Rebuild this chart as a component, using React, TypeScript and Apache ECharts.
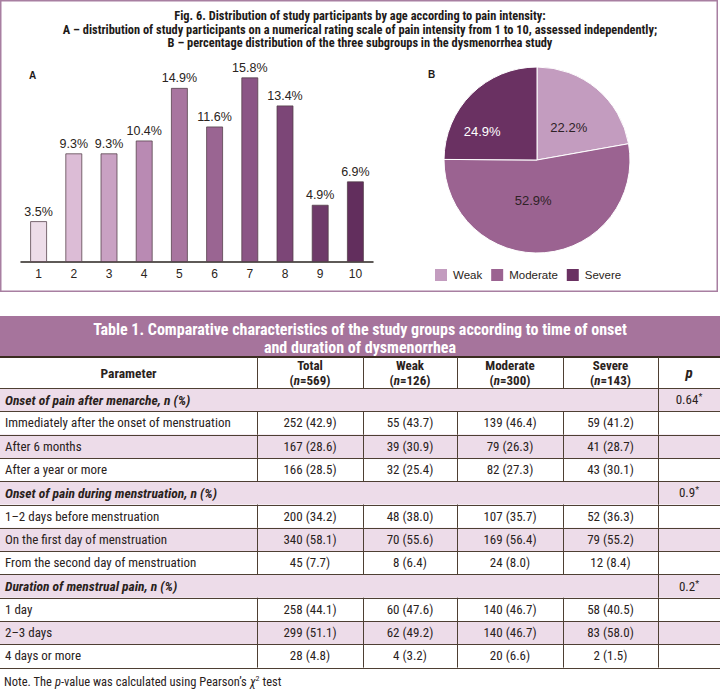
import React, { useEffect, useRef } from "react";
import * as echarts from "echarts";

// ---------- Data ----------
const barCategories = ["1", "2", "3", "4", "5", "6", "7", "8", "9", "10"];
const barValues = [3.5, 9.3, 9.3, 10.4, 14.9, 11.6, 15.8, 13.4, 4.9, 6.9];

const pieNames = ["Weak", "Moderate", "Severe"];
const pieValues = [22.2, 52.9, 24.9];

const titleLines = [
  "Fig. 6. Distribution of study participants by age according to pain intensity:",
  "A – distribution of study participants on a numerical rating scale of pain intensity from 1 to 10, assessed independently;",
  "B – percentage distribution of the three subgroups in the dysmenorrhea study",
];

const tableTitleLines = [
  "Table 1. Comparative characteristics of the study groups according to time of onset",
  "and duration of dysmenorrhea",
];
const columnHeaders = ["Parameter", "Total", "Weak", "Moderate", "Severe", "p"];
const groupSizes = [569, 126, 300, 143];

const sectionTitles = [
  "Onset of pain after menarche, n (%)",
  "Onset of pain during menstruation, n (%)",
  "Duration of menstrual pain, n (%)",
];
const sectionP = ["0.64", "0.9", "0.2"];
const rowLabels = [
  ["Immediately after the onset of menstruation", "After 6 months", "After a year or more"],
  ["1–2 days before menstruation", "On the first day of menstruation", "From the second day of menstruation"],
  ["1 day", "2–3 days", "4 days or more"],
];
const totalN = [252, 167, 166, 200, 340, 45, 258, 299, 28];
const totalPct = [42.9, 28.6, 28.5, 34.2, 58.1, 7.7, 44.1, 51.1, 4.8];
const weakN = [55, 39, 32, 48, 70, 8, 60, 62, 4];
const weakPct = [43.7, 30.9, 25.4, 38.0, 55.6, 6.4, 47.6, 49.2, 3.2];
const moderateN = [139, 79, 82, 107, 169, 24, 140, 140, 20];
const moderatePct = [46.4, 26.3, 27.3, 35.7, 56.4, 8.0, 46.7, 46.7, 6.6];
const severeN = [59, 41, 43, 52, 79, 12, 58, 83, 2];
const severePct = [41.2, 28.7, 30.1, 36.3, 55.2, 8.4, 40.5, 58.0, 1.5];

// ---------- Styles ----------
const barPalette = [
  "#eddde9", "#dcbcd6", "#c9a1c3", "#b98ab3", "#a8759f",
  "#9a6592", "#8b5585", "#7c4677", "#6e3a69", "#622e5d",
];
const piePalette = ["#c39cbf", "#9b6391", "#6a3162"];
const pieLabelColors = ["#2e2226", "#2e2226", "#ffffff"];
const pieLabelOffsets = [[0, 5], [-8, -9], [-20, 7]];

const NARROW = "'Liberation Sans Narrow', 'Arial Narrow', 'Roboto Condensed', sans-serif";
const SANS = "'Liberation Sans', Arial, Helvetica, sans-serif";
const TEXT_DARK = "#2a221c";
const FRAME = "#a87fa1";
const BAND = "#a6749c";
const SHADE = "#eddce9";
const RULE = "#4e3f33";

function txt(x: number, y: number, text: string, font: string, fill: string, align = "left", rich?: any, lineHeight?: number) {
  const style: any = {
    x, y, text, font, fill,
    align, textAlign: align,
    verticalAlign: "middle", textVerticalAlign: "middle",
  };
  if (lineHeight) style.lineHeight = lineHeight;
  if (rich) style.rich = rich;
  return { type: "text", silent: true, style };
}

function buildTable(): any[] {
  const els: any[] = [];
  const colX = [0, 257, 363, 457, 563, 658, 720];
  const bandTop = 316, bandBottom = 357;
  const headTop = 357, headBottom = 388;
  const rowH = 23.3;

  els.push({ type: "rect", silent: true, shape: { x: 0, y: bandTop, width: 720, height: bandBottom - bandTop }, style: { fill: BAND } });
  tableTitleLines.forEach((t, i) => {
    els.push(txt(360, 329 + i * 18, t, `bold 16px ${NARROW}`, "#ffffff", "center", undefined, 18));
  });

  type Row = { kind: "section" | "data"; idx: number; sec: number; sub: number };
  const rows: Row[] = [];
  let di = 0;
  sectionTitles.forEach((_, s) => {
    rows.push({ kind: "section", idx: -1, sec: s, sub: -1 });
    rowLabels[s].forEach((_, k) => {
      rows.push({ kind: "data", idx: di++, sec: s, sub: k });
    });
  });

  rows.forEach((r, i) => {
    const y = headBottom + i * rowH;
    if (r.kind === "section" || r.sub === 1) {
      els.push({ type: "rect", silent: true, shape: { x: 0, y, width: 720, height: rowH }, style: { fill: SHADE } });
    }
  });

  const headFont = `bold 13px ${NARROW}`;
  const headItal = `italic bold 13px ${NARROW}`;
  const hc = (headTop + headBottom) / 2;
  els.push(txt((colX[0] + colX[1]) / 2, hc, columnHeaders[0], `bold 13.5px ${NARROW}`, TEXT_DARK, "center"));
  for (let c = 1; c <= 4; c++) {
    const cx = (colX[c] + colX[c + 1]) / 2;
    els.push(txt(cx, hc - 7.5, columnHeaders[c], headFont, TEXT_DARK, "center", undefined, 14));
    els.push(
      txt(cx, hc + 7.5, `{b|(}{i|n}{b|=${groupSizes[c - 1]})}`, headFont, TEXT_DARK, "center", {
        b: { font: headFont, fill: TEXT_DARK, lineHeight: 14 },
        i: { font: headItal, fill: TEXT_DARK, lineHeight: 14 },
      }, 14)
    );
  }
  els.push(txt((colX[5] + colX[6]) / 2, hc, columnHeaders[5], `italic bold 15px ${NARROW}`, TEXT_DARK, "center"));

  const bodyFont = `13px ${NARROW}`;
  const cols = [
    [totalN, totalPct],
    [weakN, weakPct],
    [moderateN, moderatePct],
    [severeN, severePct],
  ];
  rows.forEach((r, i) => {
    const yc = headBottom + i * rowH + rowH / 2;
    if (r.kind === "section") {
      els.push(txt(5, yc, sectionTitles[r.sec], `italic bold 13.5px ${NARROW}`, TEXT_DARK, "left"));
      els.push(
        txt((colX[5] + colX[6]) / 2, yc, `{b|${sectionP[r.sec]}}{s|*}`, bodyFont, TEXT_DARK, "center", {
          b: { font: bodyFont, fill: TEXT_DARK },
          s: { font: `9px ${NARROW}`, fill: TEXT_DARK, verticalAlign: "top", padding: [0, 0, 5, 0] },
        })
      );
    } else {
      els.push(txt(5, yc, rowLabels[r.sec][r.sub], bodyFont, TEXT_DARK, "left"));
      cols.forEach((pair, c) => {
        const n = pair[0][r.idx];
        const p = pair[1][r.idx];
        els.push(txt((colX[c + 1] + colX[c + 2]) / 2, yc, `${n} (${p.toFixed(1)})`, bodyFont, TEXT_DARK, "center"));
      });
    }
  });

  els.push({ type: "line", silent: true, shape: { x1: 0, y1: headTop, x2: 720, y2: headTop }, style: { stroke: "#3a2c20", lineWidth: 2 } });
  for (let i = 0; i <= rows.length; i++) {
    const y = Math.round(headBottom + i * rowH) + 0.5;
    els.push({ type: "line", silent: true, shape: { x1: 0, y1: y, x2: 720, y2: y }, style: { stroke: RULE, lineWidth: 1 } });
  }
  const vline = (x: number, y1: number, y2: number) =>
    els.push({ type: "line", silent: true, shape: { x1: x + 0.5, y1, x2: x + 0.5, y2 }, style: { stroke: RULE, lineWidth: 1 } });
  for (let c = 1; c <= 5; c++) vline(colX[c], headTop, headBottom);
  rows.forEach((r, i) => {
    const y1 = headBottom + i * rowH;
    const y2 = y1 + rowH;
    if (r.kind === "section") vline(colX[5], y1, y2);
    else for (let c = 1; c <= 5; c++) vline(colX[c], y1, y2);
  });

  const nf = `12.5px ${NARROW}`;
  const nfi = `italic 12.5px ${NARROW}`;
  els.push(
    txt(4, 681, "{a|Note. The }{i|p}{a|-value was calculated using Pearson’s }{i|χ}{s|2}{a| test}", nf, TEXT_DARK, "left", {
      a: { font: nf, fill: TEXT_DARK },
      i: { font: nfi, fill: TEXT_DARK },
      s: { font: `8px ${NARROW}`, fill: TEXT_DARK, verticalAlign: "top", padding: [0, 0, 6, 0] },
    })
  );
  return els;
}

export default function App() {
  const ref = useRef<HTMLDivElement>(null);

  useEffect(() => {
    document.body.style.margin = "0";
    if (!ref.current) return;
    const chart = echarts.init(ref.current, undefined, { renderer: "svg" });

    const graphicEls: any[] = [
      {
        type: "rect", silent: true,
        shape: { x: 0.75, y: 0.75, width: 716.5, height: 290.5 },
        style: { fill: "none", stroke: FRAME, lineWidth: 1.5 },
      },
      ...titleLines.map((t, i) => txt(360, 15.5 + i * 13.5, t, `bold 12.4px ${NARROW}`, "#1e1a18", "center", undefined, 13)),
      txt(29, 75, "A", `bold 10px ${SANS}`, "#1e1a18", "left"),
      txt(428, 74, "B", `bold 10px ${SANS}`, "#1e1a18", "left"),
      ...buildTable(),
    ];

    chart.setOption({
      animation: false,
      backgroundColor: "#ffffff",
      grid: { left: 21, right: 347, top: 75, bottom: 428, containLabel: false },
      xAxis: {
        type: "category",
        data: barCategories,
        axisLine: { show: true, lineStyle: { color: "#2a2420", width: 1.5 } },
        axisTick: { show: false },
        axisLabel: { color: "#2a2420", fontSize: 12, fontFamily: SANS, margin: 6 },
      },
      yAxis: { type: "value", min: 0, max: 16, show: false, splitLine: { show: false } },
      legend: {
        data: pieNames,
        left: 428,
        top: 262,
        icon: "rect",
        itemWidth: 14,
        itemHeight: 14,
        itemGap: 7,
        textStyle: { color: "#2a2420", fontSize: 11.5, fontFamily: SANS },
      },
      series: [
        {
          type: "bar",
          data: barValues.map((v, i) => ({
            value: v,
            itemStyle: { color: barPalette[i] },
          })),
          barWidth: 17,
          itemStyle: { borderColor: "rgba(80,60,70,0.75)", borderWidth: 1 },
          label: {
            show: true,
            position: "top",
            distance: 3,
            formatter: "{c}%",
            color: "#2a2420",
            fontSize: 12.5,
            fontFamily: SANS,
          },
        },
        {
          type: "pie",
          center: [537, 160],
          radius: 93,
          startAngle: 90,
          clockwise: true,
          data: pieNames.map((n, i) => ({
            name: n,
            value: pieValues[i],
            itemStyle: { color: piePalette[i] },
            label: { color: pieLabelColors[i], offset: pieLabelOffsets[i] },
          })),
          itemStyle: { borderColor: "#ffffff", borderWidth: 1 },
          label: {
            show: true,
            position: "inside",
            formatter: "{c}%",
            fontSize: 13,
            fontFamily: SANS,
          },
          labelLine: { show: false },
          emphasis: { disabled: true },
        },
      ],
      graphic: { elements: graphicEls },
    });

    return () => chart.dispose();
  }, []);

  return <div ref={ref} style={{ width: 720, height: 690 }} />;
}
